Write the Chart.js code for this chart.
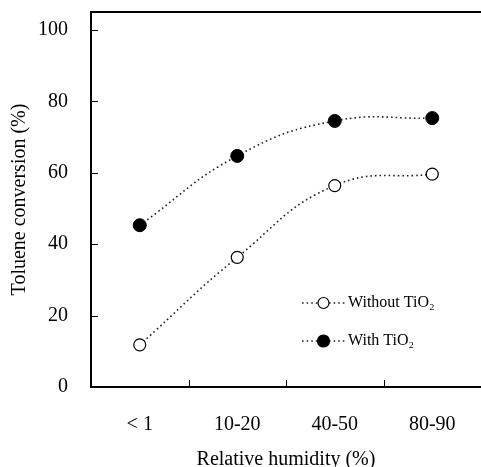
<!DOCTYPE html>
<html>
<head>
<meta charset="utf-8">
<script src="https://cdn.jsdelivr.net/npm/chart.js@4.4.1/dist/chart.umd.min.js"></script>
<style>
  html, body { margin: 0; padding: 0; background: #fff; }
  #wrap { width: 481px; height: 467px; }
</style>
</head>
<body>
<div id="wrap"><canvas id="chart"></canvas></div>
<script>
// Datos
const humidity = ['< 1', '10-20', '40-50', '80-90'];
const withoutTiO2 = [11.8, 36.3, 56.4, 59.6];
const withTiO2 = [45.3, 64.7, 74.5, 75.3];
const yTicks = [0, 20, 40, 60, 80, 100];
const seriesNames = ['Without TiO₂', 'With TiO₂'];

const serif = "'Liberation Serif', 'Times New Roman', serif";

// Marcas de graduación hacia dentro, borde superior y leyenda
const decor = {
  id: 'decor',
  afterDraw(chart) {
    const { ctx, chartArea: a, scales: { x, y } } = chart;
    ctx.save();
    ctx.strokeStyle = '#000';
    ctx.lineWidth = 1;
    yTicks.forEach(v => {
      if (v === 0) return;
      const py = Math.round(y.getPixelForValue(v)) + 0.5;
      ctx.beginPath();
      ctx.moveTo(a.left, py);
      ctx.lineTo(a.left + 7, py);
      ctx.stroke();
    });
    for (let i = 1; i < humidity.length; i++) {
      const px = Math.round((x.getPixelForValue(i - 1) + x.getPixelForValue(i)) / 2) + 0.5;
      ctx.beginPath();
      ctx.moveTo(px, a.bottom);
      ctx.lineTo(px, a.bottom - 7);
      ctx.stroke();
    }
    // borde superior
    ctx.lineWidth = 2;
    ctx.beginPath();
    ctx.moveTo(a.left - 1, a.top);
    ctx.lineTo(a.right, a.top);
    ctx.stroke();

    // leyenda
    const rows = [303, 341];
    chart.data.datasets.forEach((ds, i) => {
      const cy = rows[i];
      ctx.setLineDash([1.6, 3]);
      ctx.lineWidth = 1.4;
      ctx.strokeStyle = '#222';
      ctx.beginPath();
      ctx.moveTo(302, cy); ctx.lineTo(318, cy);
      ctx.moveTo(329, cy); ctx.lineTo(345, cy);
      ctx.stroke();
      ctx.setLineDash([]);
      ctx.beginPath();
      ctx.arc(323.5, cy, ds.pointRadius - 0.5, 0, Math.PI * 2);
      ctx.fillStyle = ds.pointBackgroundColor;
      ctx.fill();
      ctx.lineWidth = 1.2;
      ctx.strokeStyle = '#000';
      ctx.stroke();
      ctx.fillStyle = '#000';
      ctx.font = '16px ' + serif;
      ctx.textBaseline = 'middle';
      ctx.fillText(ds.label, 348, cy);
    });
    ctx.restore();
  }
};

new Chart(document.getElementById('chart'), {
  type: 'line',
  data: {
    labels: humidity,
    datasets: [
      {
        label: seriesNames[0],
        data: withoutTiO2,
        borderColor: '#222',
        borderWidth: 1.6,
        borderDash: [1.6, 3],
        tension: 0.45,
        pointRadius: 6,
        pointBackgroundColor: '#fff',
        pointBorderColor: '#000',
        pointBorderWidth: 1.2
      },
      {
        label: seriesNames[1],
        data: withTiO2,
        borderColor: '#222',
        borderWidth: 1.6,
        borderDash: [1.6, 3],
        tension: 0.45,
        pointRadius: 6.5,
        pointBackgroundColor: '#000',
        pointBorderColor: '#000',
        pointBorderWidth: 1
      }
    ]
  },
  options: {
    responsive: true,
    maintainAspectRatio: false,
    animation: false,
    layout: { autoPadding: false, padding: { top: 12, right: 0, left: 0, bottom: 0 } },
    plugins: {
      legend: { display: false },
      tooltip: { enabled: false }
    },
    scales: {
      x: {
        offset: true,
        grid: { display: false, offset: true },
        border: { display: true, color: '#000', width: 2 },
        ticks: { color: '#000', font: { family: serif, size: 20 }, padding: 18 },
        title: {
          display: true, text: 'Relative humidity (%)', color: '#000',
          font: { family: serif, size: 20 }, padding: { top: 0, bottom: -5 }
        },
        afterFit(scale) {
          scale.height = 80;
          scale.paddingLeft = 0;
          scale.paddingRight = 0;
        }
      },
      y: {
        min: 0,
        max: 105,
        grid: { display: false },
        border: { display: true, color: '#000', width: 2 },
        ticks: { color: '#000', font: { family: serif, size: 20 }, padding: 15 },
        afterBuildTicks(scale) { scale.ticks = yTicks.map(v => ({ value: v })); },
        title: {
          display: true, text: 'Toluene conversion (%)', color: '#000',
          font: { family: serif, size: 20 }, padding: { top: 8, bottom: 0 }
        },
        afterFit(scale) {
          scale.width = 91;
          scale.paddingTop = 0;
          scale.paddingBottom = 0;
        }
      }
    }
  },
  plugins: [decor]
});
</script>
</body>
</html>
